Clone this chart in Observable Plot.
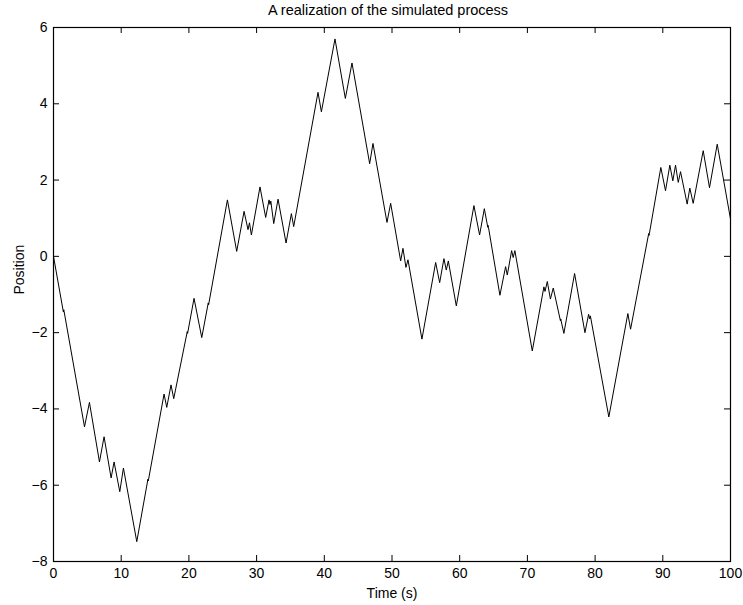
<!DOCTYPE html>
<html><head><meta charset="utf-8">
<script src="https://cdn.jsdelivr.net/npm/d3@7"></script>
<script src="https://cdn.jsdelivr.net/npm/@observablehq/plot@0.6"></script>
<style>html,body{margin:0;padding:0;background:#fff} svg{display:block}</style>
</head><body><div id="chart"></div>
<script>
const title = "A realization of the simulated process";
const xLabel = "Time (s)";
const yLabel = "Position";
const xTicks = [0, 10, 20, 30, 40, 50, 60, 70, 80, 90, 100];
const yTicks = [-8, -6, -4, -2, 0, 2, 4, 6];

const time = [
  0, 1.46, 1.52, 1.57, 4.58, 5.31, 6.79, 7.47, 8.51, 8.95, 9.79, 10.33, 12.3,
  13.95, 14.0, 14.05, 16.33, 16.73, 17.36, 17.76, 19.76, 19.81, 19.86, 20.76, 21.9,
  22.86, 22.91, 22.96, 25.69, 27.06, 28.15, 28.73, 28.95, 29.23, 30.5, 31.34, 31.84,
  31.98, 32.1, 32.53, 33.17, 34.35, 35.14, 35.48, 39.07, 39.57, 41.58, 43.11, 44.09,
  46.7, 47.19, 49.26, 49.8, 51.28, 51.62, 52.06, 52.36, 54.42, 56.45, 57.04, 57.67,
  58.02, 58.32, 59.5, 62.1, 62.94, 63.64, 64.15, 64.2, 64.25, 65.94, 66.78, 67.03,
  67.67, 67.9, 68.15, 70.72, 72.44, 72.6, 72.94, 73.4, 73.82, 74.88, 74.93, 74.98,
  75.39, 76.97, 78.5, 79.04, 79.2, 79.3, 82.03, 84.84, 85.24, 87.92, 87.97, 88.02,
  89.71, 90.4, 91.04, 91.48, 91.88, 92.28, 92.62, 93.6, 93.99, 94.49, 95.97, 96.9,
  98.04, 100
];
const position = [
  0, -1.46, -1.40, -1.45, -4.47, -3.83, -5.39, -4.73, -5.81, -5.39, -6.17, -5.55, -7.48,
  -5.84, -5.89, -5.84, -3.61, -3.96, -3.37, -3.73, -1.97, -2.02, -1.97, -1.10, -2.13,
  -1.22, -1.27, -1.22, 1.48, 0.13, 1.18, 0.70, 0.88, 0.56, 1.82, 1.02, 1.48,
  1.36, 1.45, 0.86, 1.50, 0.35, 1.12, 0.78, 4.30, 3.79, 5.70, 4.14, 5.07,
  2.43, 2.96, 0.89, 1.39, -0.12, 0.21, -0.29, -0.09, -2.17, -0.16, -0.69, -0.06,
  -0.36, -0.12, -1.30, 1.33, 0.56, 1.25, 0.76, 0.81, 0.76, -1.02, -0.27, -0.49,
  0.15, -0.03, 0.15, -2.48, -0.80, -0.92, -0.66, -1.12, -0.83, -1.69, -1.64, -1.69,
  -2.02, -0.45, -2.00, -1.52, -1.64, -1.56, -4.21, -1.50, -1.91, 0.60, 0.55, 0.60,
  2.33, 1.72, 2.39, 1.98, 2.39, 1.94, 2.22, 1.37, 1.79, 1.39, 2.77, 1.80,
  2.94, 0.98
];

const data = time.map((t, i) => ({t, p: position[i]}));

const W = 743, H = 605, mL = 53, mR = 13, mT = 27, mB = 44;
const fw = W - mL - mR, fh = H - mT - mB;
const tk = 6;

const chart = Plot.plot({
  width: W, height: H,
  marginLeft: mL, marginRight: mR, marginTop: mT, marginBottom: mB,
  style: {fontFamily: "'Liberation Sans', Arial, Helvetica, sans-serif", fontSize: "14px", background: "white", color: "black", overflow: "visible"},
  x: {domain: [0, 100]},
  y: {domain: [-8, 6]},
  marks: [
    Plot.axisX(xTicks, {anchor: "bottom", tickSize: 0, tickPadding: 7, label: null, fontSize: 14, fill: "black"}),
    Plot.axisY(yTicks, {anchor: "left", tickSize: 0, tickPadding: 6, label: null, fontSize: 14, fill: "black"}),
    Plot.tickX(xTicks, {x: d => d, insetTop: fh - tk, stroke: "black"}),
    Plot.tickX(xTicks, {x: d => d, insetBottom: fh - tk, stroke: "black"}),
    Plot.tickY(yTicks, {y: d => d, insetRight: fw - tk, stroke: "black"}),
    Plot.tickY(yTicks, {y: d => d, insetLeft: fw - tk, stroke: "black"}),
    Plot.line(data, {x: "t", y: "p", stroke: "black", strokeWidth: 1}),
    Plot.frame({stroke: "black", strokeWidth: 1.2}),
    Plot.text([title], {frameAnchor: "top", dx: -4, dy: -13, lineAnchor: "bottom", fontSize: 14.5, fill: "black"}),
    Plot.text([xLabel], {frameAnchor: "bottom", dy: 36, lineAnchor: "bottom", fontSize: 14, fill: "black"}),
    Plot.text([yLabel], {frameAnchor: "left", dx: -34, rotate: -90, lineAnchor: "middle", fontSize: 14, fill: "black"})
  ]
});
document.getElementById("chart").appendChild(chart);
</script>
</body></html>
